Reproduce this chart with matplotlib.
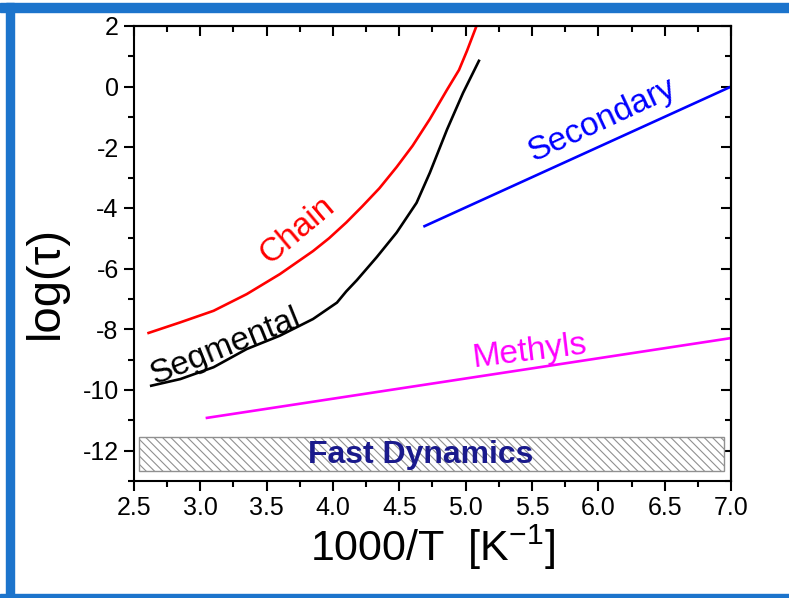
import matplotlib
matplotlib.use("Agg")
import matplotlib.pyplot as plt
from matplotlib.patches import Rectangle
from matplotlib.ticker import MultipleLocator

plt.rcParams['font.family'] = ['Liberation Sans', 'DejaVu Sans']
plt.rcParams['mathtext.default'] = 'regular'
plt.rcParams['axes.unicode_minus'] = False
plt.rcParams['hatch.color'] = '#909090'
plt.rcParams['hatch.linewidth'] = 0.8

# data (x = 1000/T, y = log(tau))
chain_x = [2.61, 2.85, 3.10, 3.35, 3.60, 3.85, 3.97, 4.10, 4.22, 4.35, 4.48, 4.60, 4.73, 4.86, 4.95, 5.01, 5.08]
chain_y = [-8.12, -7.77, -7.39, -6.84, -6.18, -5.42, -5.00, -4.48, -3.95, -3.35, -2.65, -1.95, -1.07, -0.10, 0.55, 1.18, 1.98]

seg_x = [2.63, 2.85, 3.10, 3.35, 3.60, 3.85, 4.03, 4.10, 4.18, 4.33, 4.48, 4.63, 4.73, 4.86, 4.98, 5.10]
seg_y = [-9.86, -9.64, -9.25, -8.65, -8.21, -7.66, -7.12, -6.75, -6.38, -5.62, -4.81, -3.83, -2.84, -1.41, -0.21, 0.85]

sec_x = [4.69, 7.0]
sec_y = [-4.6, 0.0]

meth_x = [3.05, 7.0]
meth_y = [-10.92, -8.29]

fast_x = [2.54, 6.95]
fast_y = [-12.66, -11.55]

xticks = [2.5, 3.0, 3.5, 4.0, 4.5, 5.0, 5.5, 6.0, 6.5, 7.0]
yticks = [-12, -10, -8, -6, -4, -2, 0, 2]

fig = plt.figure(figsize=(7.89, 5.98), dpi=100)
ax = fig.add_axes([0.1698, 0.1957, 0.7567, 0.7609])

ax.plot(chain_x, chain_y, color='#ff0000', lw=1.9)
ax.plot(seg_x, seg_y, color='black', lw=1.9)
ax.plot(sec_x, sec_y, color='#0000ff', lw=1.9)
ax.plot(meth_x, meth_y, color='#ff00ff', lw=1.9)

ax.add_patch(Rectangle((fast_x[0], fast_y[0]), fast_x[1] - fast_x[0], fast_y[1] - fast_y[0],
                       facecolor='white', edgecolor='#909090', hatch='\\\\\\\\', lw=1.0))

ax.text(3.73, -4.74, 'Chain', color='#ff0000', fontsize=24, rotation=40, ha='center', va='center')
ax.text(3.19, -8.59, 'Segmental', color='black', fontsize=24, rotation=22, ha='center', va='center')
ax.text(6.03, -1.12, 'Secondary', color='#0000ff', fontsize=24, rotation=25, ha='center', va='center')
ax.text(5.48, -8.72, 'Methyls', color='#ff00ff', fontsize=24, rotation=7, ha='center', va='center')
ax.text(4.66, -12.14, 'Fast Dynamics', color='#1a1a8c', fontsize=23, fontweight='bold', ha='center', va='center')

ax.set_xlim(2.5, 7.0)
ax.set_ylim(-13, 2)
ax.set_xticks(xticks)
ax.set_xticklabels([f'{t:.1f}' for t in xticks])
ax.set_yticks(yticks)
ax.xaxis.set_minor_locator(MultipleLocator(0.25))
ax.yaxis.set_minor_locator(MultipleLocator(1))
ax.tick_params(which='major', direction='out', length=7, width=1.5, labelsize=18, pad=4)
ax.tick_params(which='minor', direction='out', length=4, width=1.5)

# mirrored ticks pointing inward on top/right
top = ax.secondary_xaxis('top')
top.set_xticks(xticks)
top.xaxis.set_minor_locator(MultipleLocator(0.25))
top.tick_params(which='major', direction='in', length=7, width=1.5, labeltop=False)
top.tick_params(which='minor', direction='in', length=4, width=1.5)
right = ax.secondary_yaxis('right')
right.set_yticks(yticks)
right.yaxis.set_minor_locator(MultipleLocator(1))
right.tick_params(which='major', direction='in', length=7, width=1.5, labelright=False)
right.tick_params(which='minor', direction='in', length=4, width=1.5)

for s in ax.spines.values():
    s.set_linewidth(1.5)
top.spines['top'].set_linewidth(1.5)
right.spines['right'].set_linewidth(1.5)

ax.set_xlabel('1000/T  [K$^{-1}$]', fontsize=31, labelpad=2)
ax.set_ylabel('log(τ)', fontsize=34)
ax.yaxis.set_label_coords(-0.110, 0.437)

# blue frame around the picture
W, H = 789.0, 598.0
fig.patches.append(Rectangle((0, 1 - 12 / H), 1, 9 / H, transform=fig.transFigure, color='#1c74cc', zorder=10))
fig.patches.append(Rectangle((6 / W, 0), 8 / W, 1 - 3 / H, transform=fig.transFigure, color='#1c74cc', zorder=10))
fig.patches.append(Rectangle((0, 0), 1, 4 / H, transform=fig.transFigure, color='#1c74cc', zorder=10))

fig.savefig('out.png', dpi=100)
